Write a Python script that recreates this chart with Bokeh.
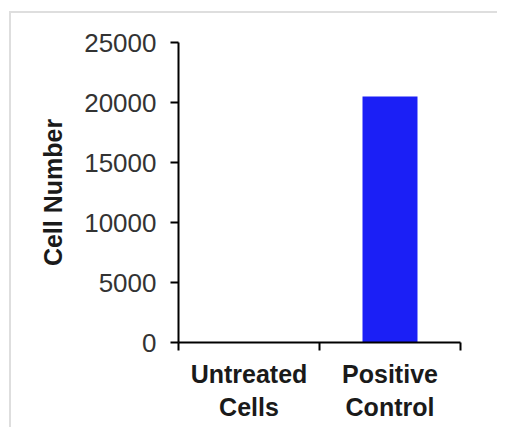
from bokeh.plotting import figure
from bokeh.models import Range1d, LinearAxis, FixedTicker
from bokeh.embed import file_html
from bokeh.resources import INLINE

categories = ["Untreated\nCells", "Positive\nControl"]
cell_numbers = [0, 20500]
y_ticks = [0, 5000, 10000, 15000, 20000, 25000]

n = len(categories)
centers = [i + 0.5 for i in range(n)]
edges = list(range(n + 1))

p = figure(
    x_range=Range1d(0, n),
    y_range=Range1d(0, 25000),
    width=488, height=416,
    min_border_left=167, min_border_right=39,
    min_border_top=29, min_border_bottom=87,
    x_axis_location=None,
    output_backend="svg", toolbar_location=None,
)
p.styles = {"border-top": "2px solid #dedede", "border-left": "2px solid #dedede",
            "margin-top": "11px", "margin-left": "9px"}
p.outline_line_color = None
p.grid.visible = False
p.background_fill_color = "white"
p.border_fill_color = None

p.vbar(x=centers, top=cell_numbers, width=0.39, color="#1b1ff6", line_color=None)

# y axis
ya = p.yaxis[0]
ya.ticker = FixedTicker(ticks=y_ticks)
ya.axis_line_width = 2
ya.axis_line_color = "black"
ya.major_tick_line_width = 2
ya.major_tick_line_color = "black"
ya.major_tick_out = 8
ya.major_tick_in = 0
ya.minor_tick_line_color = None
ya.major_label_text_font = "Liberation Sans"
ya.major_label_text_font_size = "26px"
ya.major_label_text_color = "#333333"
ya.major_label_standoff = 14
ya.axis_label = "Cell Number"
ya.axis_label_text_font = "Liberation Sans"
ya.axis_label_text_font_style = "bold"
ya.axis_label_text_font_size = "25px"
ya.axis_label_text_color = "#1a1a1a"
ya.axis_label_standoff = 14

# x axis: line and boundary ticks
tick_axis = LinearAxis(ticker=FixedTicker(ticks=edges),
                       major_label_overrides={t: "" for t in edges})
tick_axis.axis_line_width = 2
tick_axis.axis_line_color = "black"
tick_axis.major_tick_line_width = 2
tick_axis.major_tick_line_color = "black"
tick_axis.major_tick_out = 8
tick_axis.major_tick_in = 0
tick_axis.minor_tick_line_color = None
tick_axis.major_label_text_font_size = "1px"
tick_axis.major_label_standoff = 0
p.add_layout(tick_axis, "below")

# x axis: category labels
label_axis = LinearAxis(ticker=FixedTicker(ticks=centers),
                        major_label_overrides=dict(zip(centers, categories)))
label_axis.axis_line_color = None
label_axis.major_tick_line_color = None
label_axis.minor_tick_line_color = None
label_axis.major_label_text_font = "Liberation Sans"
label_axis.major_label_text_font_style = "bold"
label_axis.major_label_text_font_size = "25px"
label_axis.major_label_text_color = "#1a1a1a"
label_axis.major_label_standoff = 3
p.add_layout(label_axis, "below")

open("out.html", "w").write(file_html(p, INLINE))
